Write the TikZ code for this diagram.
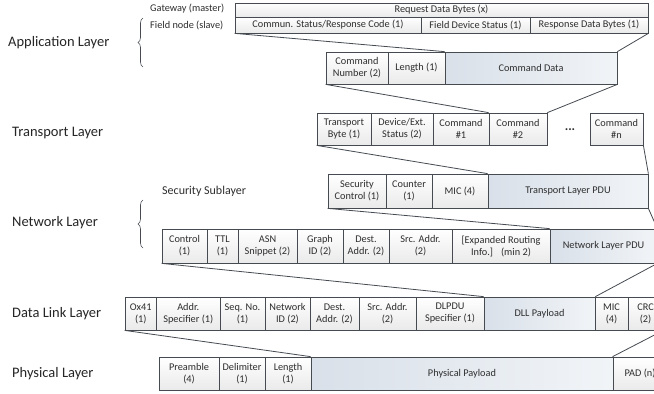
\documentclass[tikz,border=0pt]{standalone}
\usepackage{fontspec}
\setmainfont{Carlito}
\usetikzlibrary{decorations.pathreplacing}
\definecolor{edge}{HTML}{464B52}
\definecolor{payL}{HTML}{D9E0E9}
\definecolor{payR}{HTML}{F1F4F7}
\definecolor{cellB}{HTML}{EAEAEA}
\definecolor{txt}{HTML}{2E2E2E}
\tikzset{
 cellbase/.style={draw=edge, line width=0.75pt, inner sep=0pt, align=center,
   font=\fontsize{10.3}{12}\selectfont, text=txt},
 cell/.style={cellbase, top color=white, bottom color=cellB},
 paycell/.style={cellbase, left color=payL, right color=payR},
 link/.style={draw=edge, line width=0.8pt},
 layer/.style={anchor=west, font=\fontsize{14.5}{16}\selectfont, text=black!85, inner sep=0pt},
 side/.style={anchor=west, font=\fontsize{10.3}{12}\selectfont, text=txt, inner sep=0pt},
 brc/.style={draw=edge, line width=0.6pt, decorate, decoration={brace, amplitude=5pt}}
}
\newcommand\cellbox[7]{\node[#1, minimum width={(#4-#3)*1pt}, minimum height={(#6-#5)*1pt}] (#2) at ({(#3+#4)/2},{(#5+#6)/2}) {#7};}
\begin{document}
\begin{tikzpicture}[x=1pt,y=-1pt]
\useasboundingbox[fill=white] (0,0) rectangle (654,394);
\clip (0,0) rectangle (654,394);

% layer labels
\node[layer] (lapp) at (8,43) {Application Layer};
\node[layer] (ltra) at (12,133) {Transport Layer};
\node[layer] (lnet) at (12,223) {Network Layer};
\node[layer] (ldll) at (12,314) {Data Link Layer};
\node[layer] (lphy) at (12,374) {Physical Layer};

% braces
\coordinate (b1s) at (143,67); \coordinate (b1e) at (143,18);
\draw[brc] (b1s) -- (b1e);
\coordinate (b2s) at (143,248); \coordinate (b2e) at (143,200);
\draw[brc] (b2s) -- (b2e);

\node[side] (gw) at (150,9) {Gateway (master)};
\node[side] (fn) at (150,25) {Field node (slave)};
\node[side, font=\fontsize{12}{14}\selectfont] (ssl) at (162,191) {Security Sublayer};

% application
\cellbox{cell}{req}{235}{648}{3}{17}{Request Data Bytes (x)}
\cellbox{cell}{st}{235}{421}{17}{33}{Commun. Status/Response Code (1)}
\cellbox{cell}{fds}{421}{530}{17}{33}{Field Device Status (1)}
\cellbox{cell}{rdb}{530}{648}{17}{33}{Response Data Bytes (1)}

% command
\cellbox{cell}{cmdno}{326}{388}{52}{84}{Command\\Number (2)}
\cellbox{cell}{len}{388}{445}{52}{84}{Length (1)}
\cellbox{paycell}{cmddata}{445}{617}{52}{84}{Command Data}

% transport
\cellbox{cell}{tb}{317}{371}{113}{145}{Transport\\Byte (1)}
\cellbox{cell}{des}{371}{433}{113}{145}{Device/Ext.\\Status (2)}
\cellbox{cell}{c1}{433}{489}{113}{145}{Command\\\#1}
\cellbox{cell}{c2}{489}{547}{113}{145}{Command\\\#2}
\node[font=\fontsize{13}{13}\selectfont\bfseries, text=txt] (dots) at (570,130) {...};
\cellbox{cell}{cn}{590}{643}{113}{145}{Command\\\#n}

% security
\cellbox{cell}{sc}{328}{386}{174}{208}{Security\\Control (1)}
\cellbox{cell}{ctr}{386}{432}{174}{208}{Counter\\(1)}
\cellbox{cell}{mic}{432}{488}{174}{208}{MIC (4)}
\cellbox{paycell}{tpdu}{488}{648}{174}{208}{Transport Layer PDU}

% network
\cellbox{cell}{ctl}{162}{207}{229}{263}{Control\\(1)}
\cellbox{cell}{ttl}{207}{238}{229}{263}{TTL\\(1)}
\cellbox{cell}{asn}{238}{297}{229}{263}{ASN\\Snippet (2)}
\cellbox{cell}{gid}{297}{343}{229}{263}{Graph\\ID (2)}
\cellbox{cell}{nda}{343}{389}{229}{263}{Dest.\\Addr. (2)}
\cellbox{cell}{nsa}{389}{452}{229}{263}{Src. Addr.\\(2)}
\cellbox{cell}{ero}{452}{550}{229}{263}{[Expanded Routing\\Info.]\hspace{8pt}(min 2)}
\cellbox{paycell}{npdu}{550}{657}{229}{263}{Network Layer PDU}

% data link
\cellbox{cell}{x41}{125}{156.5}{297}{330}{Ox41\\(1)}
\cellbox{cell}{as}{156.5}{220}{297}{330}{Addr.\\Specifier (1)}
\cellbox{cell}{sq}{220}{265}{297}{330}{Seq. No.\\(1)}
\cellbox{cell}{nid}{265}{310}{297}{330}{Network\\ID (2)}
\cellbox{cell}{dda}{310}{359}{297}{330}{Dest.\\Addr. (2)}
\cellbox{cell}{dsa}{359}{416}{297}{330}{Src. Addr.\\(2)}
\cellbox{cell}{dsp}{416}{484}{297}{330}{DLPDU\\Specifier (1)}
\cellbox{paycell}{dll}{484}{595}{297}{330}{DLL Payload}
\cellbox{cell}{dmic}{595}{628}{297}{330}{MIC\\(4)}
\cellbox{cell}{crc}{628}{663}{297}{330}{CRC\\(2)}

% physical
\cellbox{cell}{pre}{159}{219}{357}{390}{Preamble\\(4)}
\cellbox{cell}{del}{219}{265}{357}{390}{Delimiter\\(1)}
\cellbox{cell}{plen}{265}{311}{357}{390}{Length\\(1)}
\cellbox{paycell}{ppl}{311}{613}{357}{390}{Physical Payload}
\cellbox{cell}{pad}{613}{667}{357}{390}{PAD (n)}

% expansion connectors
\draw[link] (st.south west) -- (cmddata.north west);
\draw[link] (rdb.south east) -- (cmddata.north east);
\draw[link] (cmdno.south west) -- (c2.north west);
\draw[link] (cmddata.south east) -- (c2.north east);
\draw[link] (tb.south west) -- (tpdu.north west);
\draw[link] (cn.south east) -- (tpdu.north east);
\draw[link] (sc.south west) -- (npdu.north west);
\draw[link] (tpdu.south east) -- (npdu.north east);
\draw[link] (ctl.south west) -- (dll.north west);
\draw[link] (npdu.south east) -- (dll.north east);
\draw[link] (x41.south west) -- (ppl.north west);
\draw[link] (crc.south east) -- (pad.north west);
\end{tikzpicture}
\end{document}
